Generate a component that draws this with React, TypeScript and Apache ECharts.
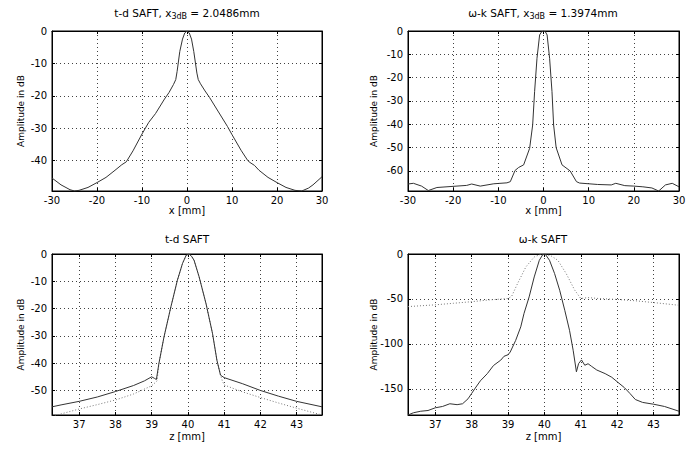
import React, { useEffect, useRef } from 'react';
import * as echarts from 'echarts';

// ---------- texts ----------
const titleTL = 't-d SAFT, x{s|3dB} = 2.0486mm';
const titleTR = 'ω-k SAFT, x{s|3dB} = 1.3974mm';
const titleBL = 't-d SAFT';
const titleBR = 'ω-k SAFT';
const yName = 'Amplitude in dB';
const xNameLat = 'x [mm]';
const xNameAx = 'z [mm]';

// ---------- tick values ----------
const latXTicks = [-30, -20, -10, 0, 10, 20, 30];
const axZTicks = [37, 38, 39, 40, 41, 42, 43];
const tdLatYTicks = [0, -10, -20, -30, -40];
const wkLatYTicks = [0, -10, -20, -30, -40, -50, -60];
const tdAxYTicks = [0, -10, -20, -30, -40, -50];
const wkAxYTicks = [0, -50, -100, -150];

// ---------- data: t-d SAFT, lateral ----------
const tdLatX = [-30, -28, -26, -25, -24, -22, -20, -18, -16, -14.5, -13.5, -12, -10, -8.5, -7, -5, -4, -3, -2.5, -2.2, -1.6, -1, -0.5, 0, 0.5, 1, 1.5, 2.2, 2.5, 3, 4, 5, 7, 9, 10, 12, 13.5, 14, 15, 16, 18, 20, 22, 24, 25.5, 27, 28, 30];
const tdLatY = [-45.4, -47.5, -49.0, -49.4, -49.2, -48.3, -46.8, -45.2, -43.0, -41.3, -40.4, -37.0, -31.8, -28.2, -25.5, -21.0, -19.0, -16.5, -15.0, -12.5, -6.3, -2.5, -0.6, 0, -0.6, -2.5, -6.3, -13.0, -15.0, -16.3, -18.5, -20.5, -25.0, -29.5, -32.0, -36.8, -40.0, -40.6, -41.5, -43.0, -45.2, -46.8, -48.3, -49.2, -49.4, -48.5, -47.5, -45.0];

// ---------- data: ω-k SAFT, lateral ----------
const wkLatX = [-30, -28.8, -27, -25.5, -23.6, -20.7, -17, -15.9, -14, -11, -8.1, -7.35, -6.3, -5.5, -4.4, -3.07, -2.4, -1.97, -1.44, -0.86, -0.4, 0, 0.4, 0.8, 1.35, 1.88, 2.24, 2.8, 4.1, 5.9, 7.3, 8, 10, 12, 15, 16, 18, 20, 22, 24, 25.5, 27, 28.5, 30];
const wkLatY = [-65.6, -65.3, -66.5, -68.4, -67.1, -66.7, -66.2, -65.6, -66.5, -65.5, -65.1, -64.6, -59.8, -58.5, -57.4, -50.3, -40.3, -26.0, -11.7, -1.7, -0.3, 0, -0.3, -1.7, -11.7, -26.0, -40.3, -50.0, -57.4, -60.0, -64.6, -65.2, -65.5, -65.8, -66.0, -65.3, -66.3, -66.5, -66.8, -67.3, -68.6, -66.0, -65.3, -66.8];

// ---------- data: t-d SAFT, axial ----------
const tdAxZ = [36.25, 36.5, 37, 37.5, 38, 38.5, 38.8, 39.0, 39.08, 39.13, 39.2, 39.34, 39.53, 39.71, 39.85, 39.95, 40.03, 40.1, 40.17, 40.31, 40.5, 40.68, 40.8, 40.9, 41.0, 41.5, 42, 42.5, 43, 43.7];
const tdAxY = [-56.0, -55.3, -54.0, -52.4, -50.4, -48.2, -46.5, -45.0, -45.6, -46.0, -40.1, -30.4, -19.4, -9.6, -3.5, -0.5, 0, -0.8, -2.3, -8.4, -18.2, -29.2, -38.9, -44.4, -45.3, -47.5, -50.0, -52.1, -54.0, -56.0];
const tdAxDotZ = [36.25, 37, 37.5, 38, 38.5, 39.0, 39.15, 39.2, 39.34, 39.53, 39.71, 39.85, 39.95, 40.03, 40.1, 40.17, 40.31, 40.5, 40.68, 40.8, 40.9, 40.95, 41.0, 41.5, 42, 42.5, 43, 43.7];
const tdAxDotY = [-59.5, -56.8, -55.2, -53.5, -51.3, -48.3, -46.5, -40.1, -30.4, -19.4, -9.6, -3.5, -0.5, 0, -0.8, -2.3, -8.4, -18.2, -29.2, -38.9, -44.4, -46.5, -48.0, -50.5, -52.6, -54.6, -56.5, -59.0];

// ---------- data: ω-k SAFT, axial ----------
const wkAxZ = [36.25, 36.4, 36.6, 36.8, 37.0, 37.2, 37.4, 37.6, 37.75, 37.9, 38.0, 38.1, 38.24, 38.43, 38.6, 38.8, 38.89, 39.0, 39.06, 39.21, 39.35, 39.44, 39.58, 39.72, 39.86, 39.95, 40.02, 40.14, 40.28, 40.42, 40.56, 40.69, 40.79, 40.88, 40.94, 41.02, 41.11, 41.2, 41.3, 41.44, 41.67, 41.85, 42.0, 42.2, 42.35, 42.5, 42.7, 43.0, 43.3, 43.7];
const wkAxY = [-179, -176.5, -174.8, -174, -171, -169.5, -166.5, -167.5, -166.5, -161, -155, -149, -141, -133, -124, -118, -113.7, -112, -109, -96, -81, -66, -47.7, -25.5, -7, -1, 0, -7, -21.8, -40.3, -62.6, -84.8, -107, -131, -121.8, -117.8, -123.7, -122, -125, -129, -133, -137, -142, -148.6, -155, -161.8, -165, -167, -169.5, -174.8];
const wkAxDotZ = [36.25, 37, 37.5, 38, 38.5, 39, 39.1, 39.26, 39.49, 39.72, 39.9, 40.0, 40.2, 40.37, 40.6, 40.83, 41.0, 41.2, 41.5, 42.0, 42.5, 43.0, 43.7];
const wkAxDotY = [-58.5, -56.5, -54.8, -53, -51, -49.5, -47, -33, -14.4, -3.3, -0.3, 0, -2.5, -7, -21.8, -40, -49.5, -48.5, -49.5, -50.5, -52, -54, -57];

const zip = (xs: number[], ys: number[]) => xs.map((x, i) => [x, ys[i]]);

const FONT = 'DejaVu Sans';

export default function App() {
  const ref = useRef<HTMLDivElement>(null);
  useEffect(() => {
    if (!ref.current) return;
    const chart = echarts.init(ref.current, null, { renderer: 'svg' });

    const grids = [
      { left: 52, top: 31, width: 270, height: 160 },
      { left: 408, top: 31, width: 271, height: 160 },
      { left: 52, top: 254, width: 270, height: 161 },
      { left: 408, top: 254, width: 271, height: 161 },
    ];
    const xCfg = [
      { min: -30, max: 30, ticks: latXTicks, name: xNameLat, gap: 14 },
      { min: -30, max: 30, ticks: latXTicks, name: xNameLat, gap: 14 },
      { min: 36.25, max: 43.7, ticks: axZTicks, name: xNameAx, gap: 16 },
      { min: 36.25, max: 43.7, ticks: axZTicks, name: xNameAx, gap: 16 },
    ];
    const yCfg = [
      { min: -49.4, max: 0, ticks: tdLatYTicks, gap: 27 },
      { min: -68.6, max: 0, ticks: wkLatYTicks, gap: 30 },
      { min: -59, max: 0, ticks: tdAxYTicks, gap: 27 },
      { min: -179, max: 0, ticks: wkAxYTicks, gap: 30 },
    ];

    const gridLine = { show: true, lineStyle: { color: '#111', type: [1, 3] as any, width: 1, opacity: 0.8 } };
    const axisLine = { show: true, onZero: false, lineStyle: { color: '#000', width: 1 } };

    const xAxis: any[] = [];
    const yAxis: any[] = [];
    xCfg.forEach((c, i) => {
      xAxis.push({
        type: 'value', gridIndex: i, min: c.min, max: c.max, position: 'bottom',
        name: c.name, nameLocation: 'middle', nameGap: c.gap, nameMoveOverlap: false,
        nameTextStyle: { fontFamily: FONT, fontSize: 10, color: '#000' },
        axisLine,
        axisTick: { show: true, inside: true, length: 3, customValues: c.ticks, lineStyle: { color: '#000' } },
        axisLabel: { show: true, customValues: c.ticks, margin: 4, fontFamily: FONT, fontSize: 10, color: '#000', hideOverlap: false },
        splitLine: gridLine,
      });
    });
    yCfg.forEach((c, i) => {
      yAxis.push({
        type: 'value', gridIndex: i, min: c.min, max: c.max, position: 'left',
        name: yName, nameLocation: 'middle', nameGap: c.gap, nameRotate: 90, nameMoveOverlap: false,
        nameTextStyle: { fontFamily: FONT, fontSize: 9, color: '#000' },
        axisLine,
        axisTick: { show: true, inside: true, length: 3, customValues: c.ticks, lineStyle: { color: '#000' } },
        axisLabel: { show: true, customValues: c.ticks, margin: 5, fontFamily: FONT, fontSize: 10, color: '#000', hideOverlap: false },
        splitLine: gridLine,
      });
    });
    // mirror axes (top / right) with inward ticks only
    xCfg.forEach((c, i) => {
      xAxis.push({
        type: 'value', gridIndex: i, min: c.min, max: c.max, position: 'top',
        axisLine,
        axisTick: { show: true, inside: true, length: 3, customValues: c.ticks, lineStyle: { color: '#000' } },
        axisLabel: { show: false }, splitLine: { show: false },
      });
    });
    yCfg.forEach((c, i) => {
      yAxis.push({
        type: 'value', gridIndex: i, min: c.min, max: c.max, position: 'right',
        axisLine,
        axisTick: { show: true, inside: true, length: 3, customValues: c.ticks, lineStyle: { color: '#000' } },
        axisLabel: { show: false }, splitLine: { show: false },
      });
    });

    const solid = (i: number, data: number[][]) => ({
      type: 'line', xAxisIndex: i, yAxisIndex: i, data, showSymbol: false, symbol: 'none',
      lineStyle: { color: '#333', width: 1 }, clip: true, silent: true,
    });
    const dotted = (i: number, data: number[][]) => ({
      type: 'line', xAxisIndex: i, yAxisIndex: i, data, showSymbol: false, symbol: 'none',
      lineStyle: { color: '#777', width: 1, type: [1, 2] }, clip: true, silent: true,
    });

    const titleStyle = (text: string, x: number, y: number) => ({
      type: 'text', x, y,
      style: {
        text, align: 'center', verticalAlign: 'middle',
        fontFamily: FONT, fontSize: 10.5, fontWeight: 'normal', fill: '#000', lineHeight: 16,
        rich: {
          s: { fontFamily: FONT, fontSize: 8, fontWeight: 'normal', lineHeight: 8, verticalAlign: 'bottom', fill: '#000' },
        },
      },
    });

    chart.setOption({
      animation: false,
      backgroundColor: '#fff',
      grid: grids.map(g => ({ ...g, show: true, borderColor: '#000', borderWidth: 1, backgroundColor: 'transparent' })),
      xAxis,
      yAxis,
      series: [
        dotted(2, zip(tdAxDotZ, tdAxDotY)),
        dotted(3, zip(wkAxDotZ, wkAxDotY)),
        solid(0, zip(tdLatX, tdLatY)),
        solid(1, zip(wkLatX, wkLatY)),
        solid(2, zip(tdAxZ, tdAxY)),
        solid(3, zip(wkAxZ, wkAxY)),
      ],
      graphic: [
        titleStyle(titleTL, 187, 12.5),
        titleStyle(titleTR, 543, 12.5),
        titleStyle(titleBL, 187, 239),
        titleStyle(titleBR, 543, 239),
      ],
    });
    return () => chart.dispose();
  }, []);
  return <div ref={ref} style={{ position: 'absolute', left: 0, top: 0, width: 694, height: 452 }} />;
}
